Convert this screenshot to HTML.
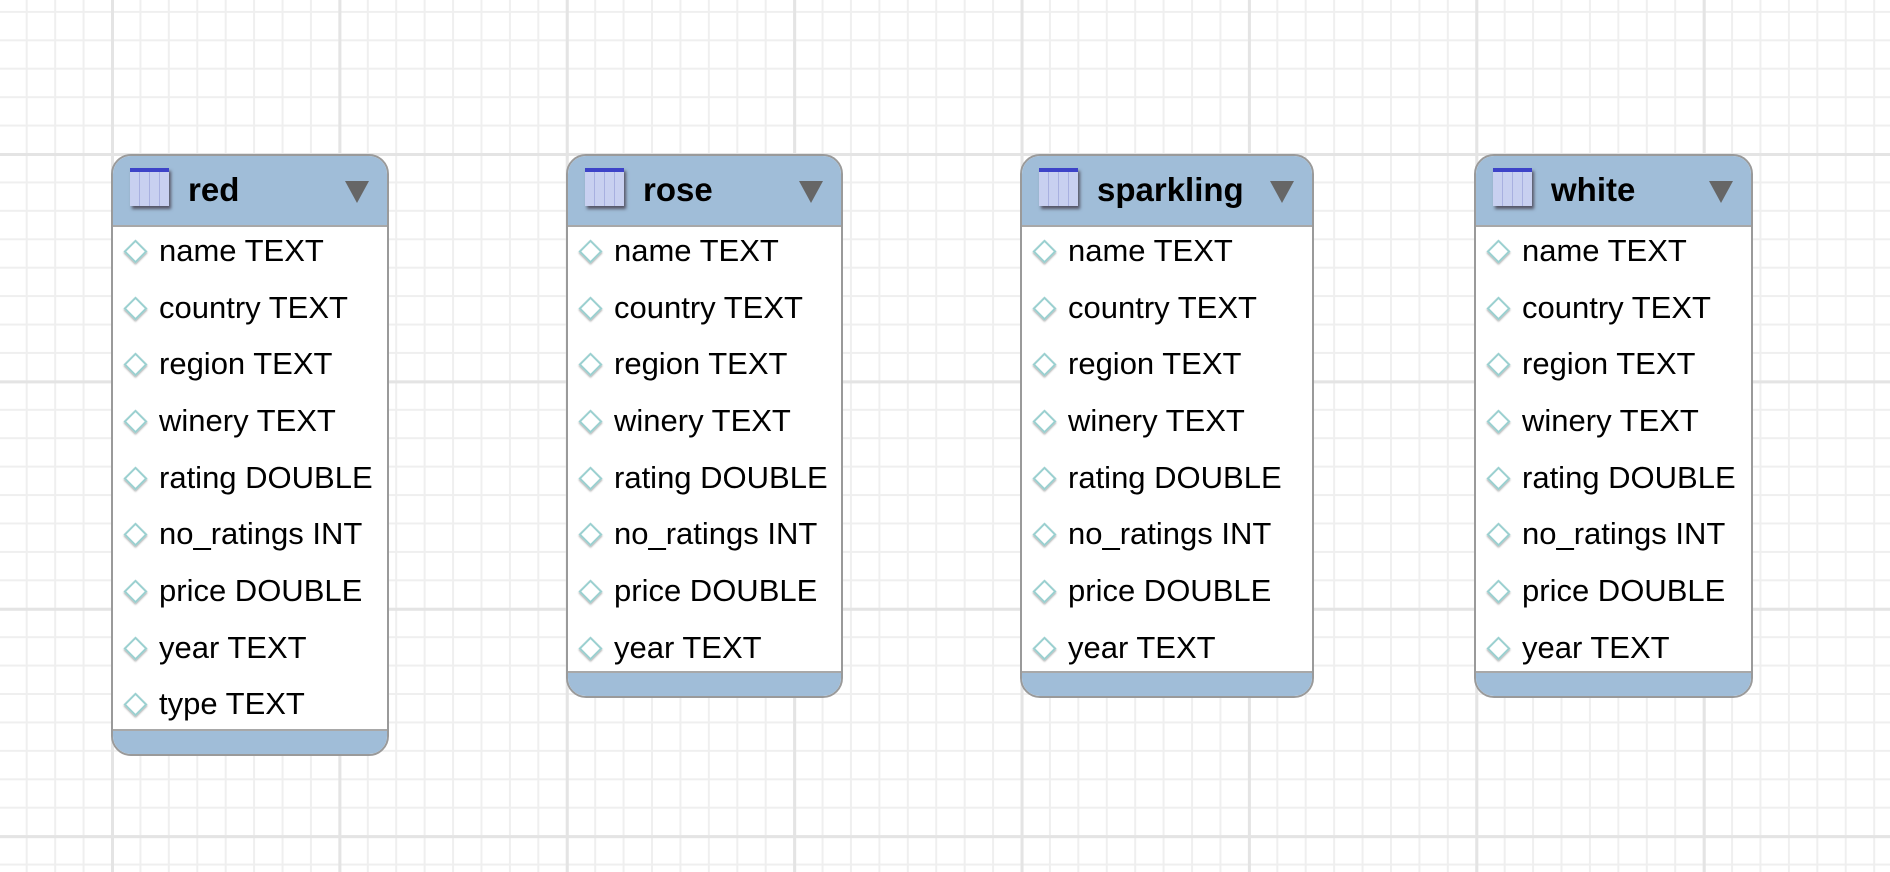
<!DOCTYPE html>
<html><head><meta charset="utf-8"><style>
html,body{margin:0;padding:0}
body{width:1890px;height:872px;overflow:hidden;position:relative;font-family:"Liberation Sans",Arial,sans-serif;
background-color:#fff;
background-image:
linear-gradient(to right,#e4e4e4 0 3px,transparent 3px),
linear-gradient(to bottom,#e4e4e4 0 3px,transparent 3px),
linear-gradient(to right,#efefef 0 2px,transparent 2px),
linear-gradient(to bottom,#efefef 0 2px,transparent 2px);
background-size:227.4px 227.4px,227.4px 227.4px,28.425px 28.425px,28.425px 28.425px;
background-position:111px 153px,111px 153px,111px 153px,111px 153px;}
.t{position:absolute;top:154px;border:2px solid #9a9a9a;border-radius:20px;background:#fff;overflow:hidden;box-sizing:border-box}
.h{height:69px;background:#a0bdd8;border-bottom:2px solid #a8a8a8;position:relative}
.h .ic{position:absolute;left:17px;top:12px;width:39px;height:38px;box-sizing:border-box;border-top:4px solid #3d43c8;
background:linear-gradient(to right,#c8d0f0 0 9px,#a8b0e0 9px 10px,#c8d0f0 10px 19px,#a8b0e0 19px 20px,#c8d0f0 20px 29px,#a8b0e0 29px 30px,#c8d0f0 30px);
box-shadow:2px 3px 3px #556}
.h .n{position:absolute;left:75px;top:15px;font-weight:bold;font-size:33px;color:#000}
.h .tri{position:absolute;right:18px;top:25px;width:0;height:0;border-left:12px solid transparent;border-right:12px solid transparent;border-top:22px solid #666}
.r{position:absolute;left:46px;font-size:31px;color:#000;line-height:34px}
.d{position:absolute;left:14px;width:13px;height:13px;border:2px solid #9ad0d0;transform:rotate(45deg);background:#fff;box-shadow:1px 1px 2px #aaa}
.f{position:absolute;left:0;right:0;bottom:0;height:23px;background:#a0bdd8;border-top:2px solid #a8a8a8}
</style></head><body>

<div class="t" style="left:111px;width:278px;height:602px">
<div class="h"><div class="ic"></div><div class="n">red</div><div class="tri"></div></div>
<div class="d" style="top:87px"></div><div class="r" style="top:78px">name TEXT</div>
<div class="d" style="top:144px"></div><div class="r" style="top:135px">country TEXT</div>
<div class="d" style="top:200px"></div><div class="r" style="top:191px">region TEXT</div>
<div class="d" style="top:257px"></div><div class="r" style="top:248px">winery TEXT</div>
<div class="d" style="top:314px"></div><div class="r" style="top:305px">rating DOUBLE</div>
<div class="d" style="top:370px"></div><div class="r" style="top:361px">no_ratings INT</div>
<div class="d" style="top:427px"></div><div class="r" style="top:418px">price DOUBLE</div>
<div class="d" style="top:484px"></div><div class="r" style="top:475px">year TEXT</div>
<div class="d" style="top:540px"></div><div class="r" style="top:531px">type TEXT</div>
<div class="f"></div></div>

<div class="t" style="left:566px;width:277px;height:544px">
<div class="h"><div class="ic"></div><div class="n">rose</div><div class="tri"></div></div>
<div class="d" style="top:87px"></div><div class="r" style="top:78px">name TEXT</div>
<div class="d" style="top:144px"></div><div class="r" style="top:135px">country TEXT</div>
<div class="d" style="top:200px"></div><div class="r" style="top:191px">region TEXT</div>
<div class="d" style="top:257px"></div><div class="r" style="top:248px">winery TEXT</div>
<div class="d" style="top:314px"></div><div class="r" style="top:305px">rating DOUBLE</div>
<div class="d" style="top:370px"></div><div class="r" style="top:361px">no_ratings INT</div>
<div class="d" style="top:427px"></div><div class="r" style="top:418px">price DOUBLE</div>
<div class="d" style="top:484px"></div><div class="r" style="top:475px">year TEXT</div>
<div class="f"></div></div>

<div class="t" style="left:1020px;width:294px;height:544px">
<div class="h"><div class="ic"></div><div class="n">sparkling</div><div class="tri"></div></div>
<div class="d" style="top:87px"></div><div class="r" style="top:78px">name TEXT</div>
<div class="d" style="top:144px"></div><div class="r" style="top:135px">country TEXT</div>
<div class="d" style="top:200px"></div><div class="r" style="top:191px">region TEXT</div>
<div class="d" style="top:257px"></div><div class="r" style="top:248px">winery TEXT</div>
<div class="d" style="top:314px"></div><div class="r" style="top:305px">rating DOUBLE</div>
<div class="d" style="top:370px"></div><div class="r" style="top:361px">no_ratings INT</div>
<div class="d" style="top:427px"></div><div class="r" style="top:418px">price DOUBLE</div>
<div class="d" style="top:484px"></div><div class="r" style="top:475px">year TEXT</div>
<div class="f"></div></div>

<div class="t" style="left:1474px;width:279px;height:544px">
<div class="h"><div class="ic"></div><div class="n">white</div><div class="tri"></div></div>
<div class="d" style="top:87px"></div><div class="r" style="top:78px">name TEXT</div>
<div class="d" style="top:144px"></div><div class="r" style="top:135px">country TEXT</div>
<div class="d" style="top:200px"></div><div class="r" style="top:191px">region TEXT</div>
<div class="d" style="top:257px"></div><div class="r" style="top:248px">winery TEXT</div>
<div class="d" style="top:314px"></div><div class="r" style="top:305px">rating DOUBLE</div>
<div class="d" style="top:370px"></div><div class="r" style="top:361px">no_ratings INT</div>
<div class="d" style="top:427px"></div><div class="r" style="top:418px">price DOUBLE</div>
<div class="d" style="top:484px"></div><div class="r" style="top:475px">year TEXT</div>
<div class="f"></div></div>

</body></html>
